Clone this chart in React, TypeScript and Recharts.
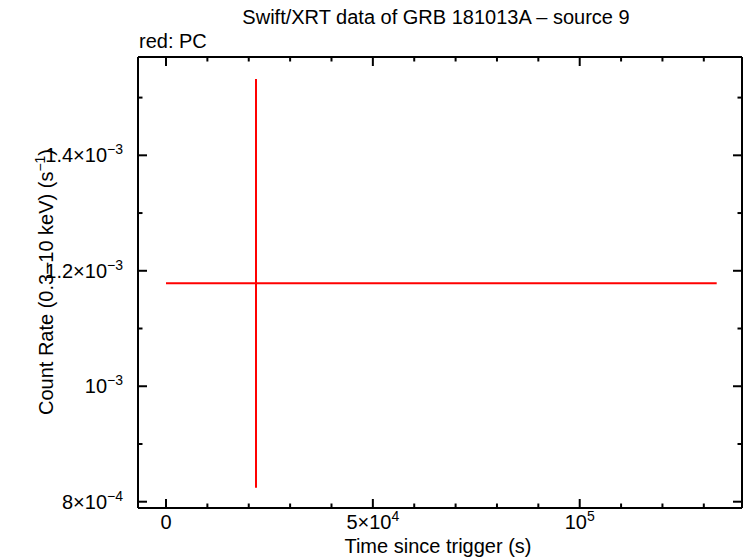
import React from 'react';
import { ErrorBar, Scatter, ScatterChart, XAxis, YAxis } from 'recharts';

// light curve: one PC-mode bin
const times = [21755];
const timeErrLow = [21755];
const timeErrHigh = [111360];
const rates = [1.1783e-3];
const rateErrors = [3.54e-4];

// axis ticks (minor ticks have an empty label)
const xTicks = [0, 10000, 20000, 30000, 40000, 50000, 60000, 70000, 80000, 90000, 100000, 110000, 120000, 130000];
const xTickBases = ['0', '', '', '', '', '5×10', '', '', '', '', '10', '', '', ''];
const xTickExps = ['', '', '', '', '', '4', '', '', '', '', '5', '', '', ''];
const yTicks = [8e-4, 9e-4, 1e-3, 1.1e-3, 1.2e-3, 1.3e-3, 1.4e-3, 1.5e-3];
const yTickBases = ['8×10', '', '10', '', '1.2×10', '', '1.4×10', ''];
const yTickExps = ['−4', '', '−3', '', '−3', '', '−3', ''];

const xDomain = [-6770, 139230];
const yDomain = [7.891e-4, 1.5703e-3];

const data = times.map((t, i) => ({
  time: t,
  rate: rates[i],
  timeErr: [timeErrLow[i], timeErrHigh[i]],
  rateErr: rateErrors[i],
}));

const FONT = '"Liberation Sans", Arial, Helvetica, sans-serif';
const RED = '#ff0000';
const MAJOR = 9;
const MINOR = 4.5;
const FS = 20;
const SUP = 14;

function tickIndex(list: number[], v: number) {
  return list.findIndex((t) => Math.abs(t - v) <= 1e-9 * Math.max(1, Math.abs(t)));
}

function Label({ x, y, anchor, base, exp }: any) {
  return (
    <text x={x} y={y} textAnchor={anchor} fontSize={FS} fontFamily={FONT} fill="#000">
      {base}
      {exp && (
        <tspan dy={-8} fontSize={SUP}>
          {exp}
        </tspan>
      )}
    </text>
  );
}

function BottomTick(p: any) {
  const i = tickIndex(xTicks, p.payload.value);
  const major = xTickBases[i] !== '';
  return (
    <g>
      <line x1={p.x} x2={p.x} y1={p.y} y2={p.y - (major ? MAJOR : MINOR)} stroke="#000" strokeWidth={2} />
      {major && <Label x={p.x} y={p.y + 21} anchor="middle" base={xTickBases[i]} exp={xTickExps[i]} />}
    </g>
  );
}

function TopTick(p: any) {
  const i = tickIndex(xTicks, p.payload.value);
  const major = xTickBases[i] !== '';
  return <line x1={p.x} x2={p.x} y1={p.y} y2={p.y + (major ? MAJOR : MINOR)} stroke="#000" strokeWidth={2} />;
}

function LeftTick(p: any) {
  const i = tickIndex(yTicks, p.payload.value);
  const major = yTickBases[i] !== '';
  return (
    <g>
      <line x1={p.x} x2={p.x + (major ? MAJOR : MINOR)} y1={p.y} y2={p.y} stroke="#000" strokeWidth={2} />
      {major && <Label x={p.x - 15} y={p.y + 7} anchor="end" base={yTickBases[i]} exp={yTickExps[i]} />}
    </g>
  );
}

function RightTick(p: any) {
  const i = tickIndex(yTicks, p.payload.value);
  const major = yTickBases[i] !== '';
  return <line x1={p.x} x2={p.x - (major ? MAJOR : MINOR)} y1={p.y} y2={p.y} stroke="#000" strokeWidth={2} />;
}

const axisLine = { stroke: '#000', strokeWidth: 2 };

export default function App() {
  return (
    <div style={{ position: 'absolute', left: 0, top: 0, width: 746, height: 558, background: '#fff' }}>
      <ScatterChart width={746} height={558} margin={{ top: 56, right: 3, bottom: 0, left: 0 }}>
        <XAxis
          xAxisId="b"
          dataKey="time"
          type="number"
          domain={xDomain}
          ticks={xTicks}
          interval={0}
          allowDataOverflow
          height={50}
          tickSize={0}
          tickMargin={0}
          tickLine={false}
          axisLine={axisLine}
          tick={BottomTick}
          label={{
            content: () => (
              <text x={438} y={553} textAnchor="middle" fontSize={FS} fontFamily={FONT} fill="#000">
                Time since trigger (s)
              </text>
            ),
          }}
        />
        <XAxis
          xAxisId="t"
          dataKey="time"
          orientation="top"
          type="number"
          domain={xDomain}
          ticks={xTicks}
          interval={0}
          allowDataOverflow
          height={1}
          tickSize={0}
          tickMargin={0}
          tickLine={false}
          axisLine={axisLine}
          tick={TopTick}
        />
        <YAxis
          yAxisId="l"
          dataKey="rate"
          type="number"
          domain={yDomain}
          ticks={yTicks}
          interval={0}
          allowDataOverflow
          width={138}
          tickSize={0}
          tickMargin={0}
          tickLine={false}
          axisLine={axisLine}
          tick={LeftTick}
          label={{
            content: () => (
              <text
                x={53}
                y={282}
                transform="rotate(-90 53 282)"
                textAnchor="middle"
                fontSize={FS}
                fontFamily={FONT}
                fill="#000"
              >
                Count Rate (0.3–10 keV) (s
                <tspan dy={-8} fontSize={SUP}>
                  −1
                </tspan>
                <tspan dy={8}>)</tspan>
              </text>
            ),
          }}
        />
        <YAxis
          yAxisId="r"
          dataKey="rate"
          orientation="right"
          type="number"
          domain={yDomain}
          ticks={yTicks}
          interval={0}
          allowDataOverflow
          width={1}
          tickSize={0}
          tickMargin={0}
          tickLine={false}
          axisLine={axisLine}
          tick={RightTick}
        />
        <Scatter
          data={data}
          xAxisId="b"
          yAxisId="l"
          fill={RED}
          shape={() => <g />}
          isAnimationActive={false}
        >
          <ErrorBar dataKey="timeErr" direction="x" width={0} stroke={RED} strokeWidth={2} isAnimationActive={false} />
          <ErrorBar dataKey="rateErr" direction="y" width={0} stroke={RED} strokeWidth={2} isAnimationActive={false} />
        </Scatter>
        {/* hidden copy so the top and right frame axes get drawn */}
        <Scatter data={data} xAxisId="t" yAxisId="r" shape={() => <g />} isAnimationActive={false} />
      </ScatterChart>
      <svg width={746} height={60} style={{ position: 'absolute', left: 0, top: 0, pointerEvents: 'none' }}>
        <text x={436} y={24} textAnchor="middle" fontSize={FS} fontFamily={FONT} fill="#000">
          Swift/XRT data of GRB 181013A – source 9
        </text>
        <text x={139} y={48} fontSize={FS} fontFamily={FONT} fill="#000">
          red: PC
        </text>
      </svg>
    </div>
  );
}
